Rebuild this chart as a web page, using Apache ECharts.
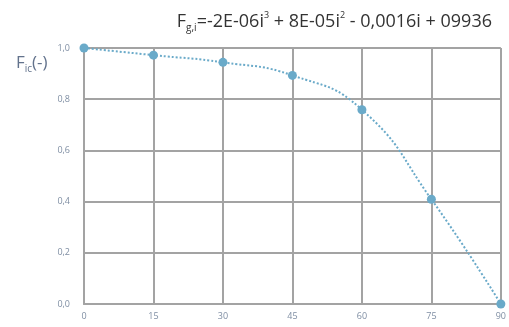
<!DOCTYPE html>
<html>
<head>
<meta charset="utf-8">
<script src="https://cdn.jsdelivr.net/npm/echarts@6/dist/echarts.min.js"></script>
<style>
  html, body { margin: 0; padding: 0; background: #fff; }
  #chart { width: 509px; height: 327px; }
</style>
</head>
<body>
<div id="chart"></div>
<script>
// angle i (deg) vs factor F_ic
var angles = [0, 15, 30, 45, 60, 75, 90];
var factors = [1.0, 0.972, 0.944, 0.893, 0.759, 0.409, 0.0];
var yTicks = ["0,0", "0,2", "0,4", "0,6", "0,8", "1,0"];

var chart = echarts.init(document.getElementById("chart"));
var gray = "#a3a3a3", blue = "#6aaac9", labelColor = "#7f8ea3";
var txt = function(size, color, extra) {
  var s = { fontFamily: "Open Sans", fontSize: size, color: color, fontWeight: "normal" }
  for (var k in extra) { s[k] = extra[k] }
  return s
}

chart.setOption({
  animation: false,
  title: [{
    text: "{m|F}{s|g,i}{m|=-2E-06i}{p|3}{m| + 8E-05i}{p|2}{m| - 0,0016i + 09936}",
    right: 12, top: 6,
    textStyle: { fontWeight: "normal", rich: {
      m: txt(18, "#333"),
      s: txt(10, "#333", { verticalAlign: "bottom", padding: [12, 0, 0, 0] }),
      p: txt(9, "#333", { verticalAlign: "top", padding: [0, 0, 9, 0] })
    } }
  }, {
    text: "{m|F}{s|ic}{m|(-)}",
    left: 11, top: 48,
    textStyle: { fontWeight: "normal", rich: {
      m: txt(17, "#62728c"),
      s: txt(10, "#62728c", { verticalAlign: "bottom", padding: [11, 0, 0, 0] })
    } }
  }],
  grid: { left: 84, right: 3, top: 48, bottom: 23, containLabel: false },
  xAxis: {
    type: "value", min: 0, max: 90, interval: 15,
    axisLine: { show: true, lineStyle: { color: gray, width: 2 } },
    axisTick: { show: false },
    splitLine: { show: true, lineStyle: { color: gray, width: 2 } },
    axisLabel: { color: labelColor, fontSize: 9, fontFamily: "Open Sans", margin: 8 }
  },
  yAxis: {
    type: "value", min: 0, max: 1, interval: 0.2,
    axisLine: { show: true, lineStyle: { color: gray, width: 2 } },
    axisTick: { show: false },
    splitLine: { show: true, lineStyle: { color: gray, width: 2 } },
    axisLabel: {
      color: labelColor, fontSize: 9, fontFamily: "Open Sans", margin: 14,
      formatter: function(v) { return yTicks[Math.round(v * 5)] }
    }
  },
  series: [{
    type: "line", smooth: 0.5,
    data: angles.map(function(a, i) { return [a, factors[i]] }),
    symbol: "circle", symbolSize: 9,
    itemStyle: { color: blue },
    lineStyle: { color: blue, width: 2, type: "dotted" },
    z: 5
  }]
});
</script>
</body>
</html>
